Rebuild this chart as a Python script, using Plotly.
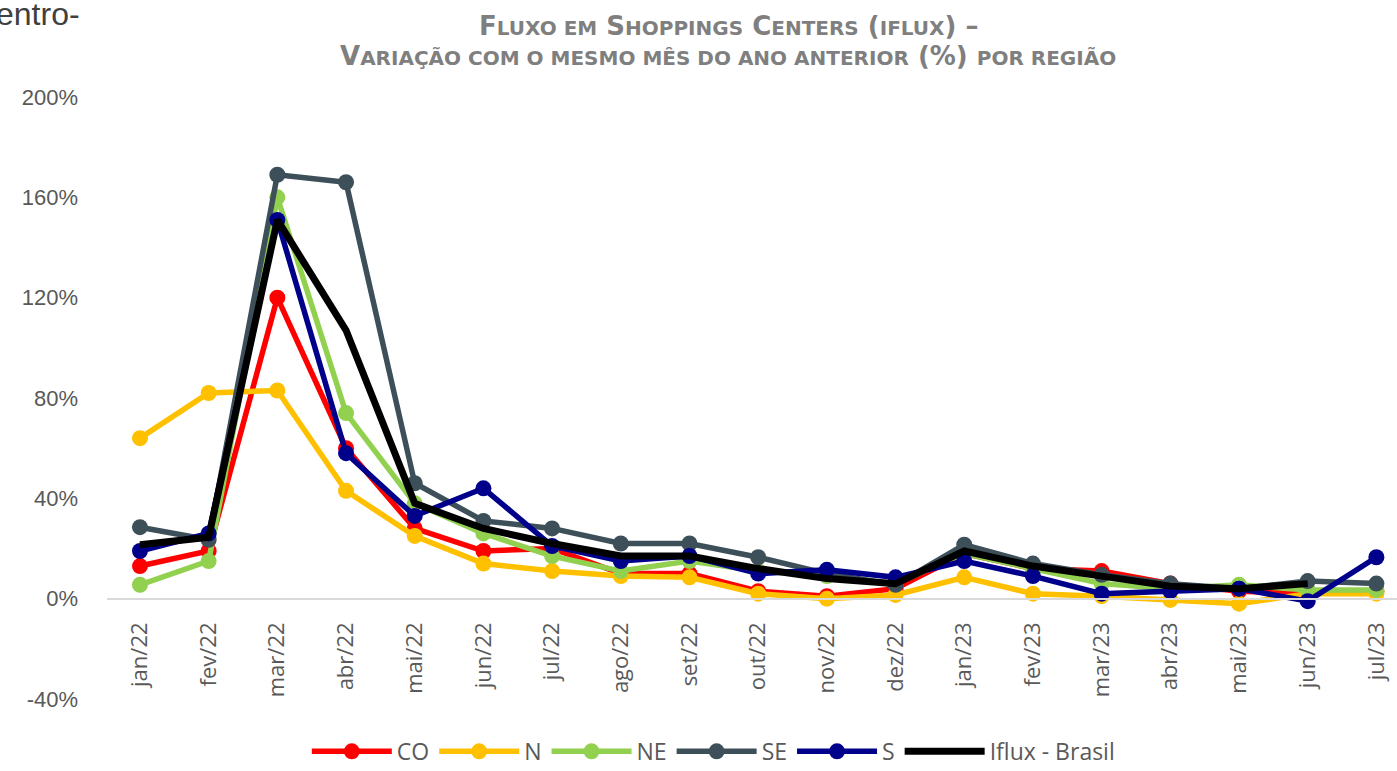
import plotly.graph_objects as go

# Categorias (meses)
months = ["jan/22", "fev/22", "mar/22", "abr/22", "mai/22", "jun/22", "jul/22",
          "ago/22", "set/22", "out/22", "nov/22", "dez/22", "jan/23", "fev/23",
          "mar/23", "abr/23", "mai/23", "jun/23", "jul/23"]

# Variação (%) por região
co = [13, 19, 120, 60, 28, 19, 20, 10, 10, 3, 1, 4, 18, 12, 11, 6, 3, 2, 3]
n = [64, 82, 83, 43, 25, 14, 11, 9, 8.5, 2, 0, 1.5, 8.5, 2, 1, -0.5, -2, 2, 2]
ne = [5.5, 15, 160, 74, 38, 26, 17, 11, 15, 11, 9, 6, 18, 12, 6, 4, 5.5, 3.5, 3.5]
se = [28.5, 23.5, 169, 166, 46, 31, 28, 22, 22, 16.5, 10, 5.5, 21.5, 14, 9.5, 6, 4, 7, 6]
s = [19, 26, 151, 58, 33, 44, 21, 15, 17, 10, 11.5, 8.5, 15, 9, 2, 3, 4, -1, 16.5]
brasil = [21.5, 24.5, 151, 107, 38, 28, 22, 17, 17, 12, 8, 6, 19, 13, 9, 5, 4, 6]

y_ticks = [-40, 0, 40, 80, 120, 160, 200]
y_labels = ["-40%", "0%", "40%", "80%", "120%", "160%", "200%"]

COLORS = {
    "CO": "#FF0000",
    "N": "#FFC000",
    "NE": "#92D050",
    "SE": "#3D4F58",
    "S": "#00008B",
    "Iflux - Brasil": "#000000",
}

GRAY = "#595959"
idx = list(range(len(months)))

fig = go.Figure()
for name, vals in [("CO", co), ("N", n), ("NE", ne), ("SE", se), ("S", s)]:
    fig.add_trace(go.Scatter(
        x=idx[:len(vals)], y=vals, name=name, mode="lines+markers",
        line=dict(color=COLORS[name], width=5.5),
        marker=dict(color=COLORS[name], size=16),
    ))
fig.add_trace(go.Scatter(
    x=idx[:len(brasil)], y=brasil, name="Iflux - Brasil", mode="lines",
    line=dict(color=COLORS["Iflux - Brasil"], width=7),
))

# position of the 0% line inside the plot area
zero_pos = (0 - y_ticks[0]) / (y_ticks[-1] - y_ticks[0])

fig.update_layout(
    width=1397, height=771,
    paper_bgcolor="white", plot_bgcolor="white",
    margin=dict(l=107, r=0, t=97, b=72, autoexpand=False),
    font=dict(family="Liberation Sans, Arial, sans-serif", color=GRAY, size=22),
    showlegend=True,
    legend=dict(
        orientation="h", x=0.47, xanchor="center", y=-0.087, yanchor="middle",
        font=dict(family="Open Sans, sans-serif", size=23, color=GRAY),
        itemwidth=80, tracegroupgap=0, bgcolor="rgba(0,0,0,0)",
    ),
    xaxis=dict(
        tickmode="array", tickvals=idx, ticktext=months,
        range=[-0.48, 18.3], tickangle=-90,
        anchor="free", position=zero_pos,
        showgrid=False, zeroline=False,
        showline=True, linecolor="#D9D9D9", linewidth=2,
        ticks="", ticklabelstandoff=14,
        tickfont=dict(family="Open Sans, sans-serif", size=22, color=GRAY),
    ),
    yaxis=dict(
        range=[y_ticks[0], y_ticks[-1]], tickmode="array",
        tickvals=y_ticks, ticktext=y_labels,
        showgrid=False, zeroline=False, showline=False, ticks="",
        ticklabelstandoff=28,
        tickfont=dict(family="Liberation Sans, Arial, sans-serif", size=22, color=GRAY),
    ),
)

title_color = "#7F7F7F"
title_font = dict(family="DejaVu Sans, sans-serif", size=26, color=title_color)
sm = "<span style='font-size:20px'>"
line1 = (f"<b>F{sm}LUXO EM</span> S{sm}HOPPINGS</span> C{sm}ENTERS</span> "
         f"({sm}IFLUX</span>) –</b>")
line2 = (f"<b>V{sm}ARIAÇÃO COM O MESMO MÊS DO ANO ANTERIOR</span> (%) "
         f"{sm}POR REGIÃO</span></b>")

fig.add_annotation(text=line1, xref="paper", yref="paper", x=0.4814, y=1.118,
                   xanchor="center", yanchor="middle", showarrow=False,
                   font=title_font)
fig.add_annotation(text=line2, xref="paper", yref="paper", x=0.4814, y=1.0681,
                   xanchor="center", yanchor="middle", showarrow=False,
                   font=title_font)
fig.add_annotation(text="entro-", xref="paper", yref="paper", x=-0.0875, y=1.138,
                   xanchor="left", yanchor="middle", showarrow=False,
                   font=dict(family="Liberation Sans Narrow, Liberation Sans, Arial, sans-serif",
                             size=32, color="#404040"))

# the page body has a default 8px margin; remove it so the figure fills the window
fig.write_html("out.html", config={"displayModeBar": False},
               post_script="document.body.style.margin='0';")
